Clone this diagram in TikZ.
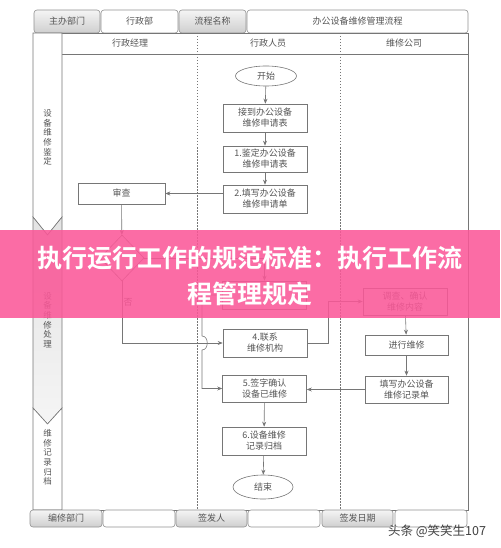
\documentclass[tikz,border=0pt]{standalone}
\usepackage{fontspec}
\setmainfont{Noto Sans CJK SC}[BoldFont={Noto Sans CJK SC Bold}]
\usetikzlibrary{shapes.geometric, arrows.meta}

\definecolor{linegray}{RGB}{118,118,118}
\definecolor{textgray}{RGB}{85,85,85}
\definecolor{bannerpink}{RGB}{250,88,152}

\begin{document}
\begin{tikzpicture}[
  x=1pt, y=-1pt, line width=0.6pt,
  every node/.style={text=textgray, font=\fontsize{9}{11}\selectfont},
  stepbox/.style={draw=linegray, fill=white, minimum width=84pt,
    minimum height=28pt, align=center, inner sep=1pt},
  endbox/.style={ellipse, draw=linegray, fill=white, minimum width=61pt,
    minimum height=20pt, inner sep=1pt},
  flow/.style={draw=linegray, -{Stealth[length=5pt, width=4pt]}},
  graytab/.style={draw=linegray!80, rounded corners=3pt, top color=gray!8,
    bottom color=gray!38, inner sep=0pt},
  whitetab/.style={draw=linegray!80, rounded corners=3pt, fill=white, inner sep=0pt},
  stagetext/.style={align=center, font=\fontsize{8.5}{9.6}\selectfont},
  lanesep/.style={draw=linegray, dash pattern=on 1.5pt off 1.5pt},
]
  \useasboundingbox (0,0) rectangle (500,548);

  % header tabs
  \node[graytab, minimum width=66pt, minimum height=23pt] (zhuban) at (67,21.5) {主办部门};
  \node[whitetab, minimum width=77pt, minimum height=23pt] (xingzhengbu) at (139.5,21.5) {行政部};
  \node[graytab, minimum width=67pt, minimum height=23pt] (liucheng) at (212.5,21.5) {流程名称};
  \node[whitetab, minimum width=221pt, minimum height=23pt] (mingcheng) at (357.5,21.5) {办公设备维修管理流程};

  % frame and lanes
  \draw[linegray] (33,33) rectangle (468,510);
  \draw[linegray] (62,54) -- (468,54);
  \draw[lanesep] (197,33) -- (197,510);
  \draw[lanesep] (340,33) -- (340,510);
  \node (jingli) at (130,43) {行政经理};
  \node (renyuan) at (268,43) {行政人员};
  \node (gongsi) at (404,43) {维修公司};

  % stages
  \draw[linegray, fill=white] (33,33) -- (62,33) -- (62,217) -- (47.5,235) -- (33,217) -- cycle;
  \draw[linegray, top color=gray!22, bottom color=gray!8]
    (33,217) -- (47.5,235) -- (62,217) -- (62,408) -- (47.5,424) -- (33,408) -- cycle;
  \draw[linegray, fill=white] (33,408) -- (47.5,424) -- (62,408) -- (62,510) -- (33,510) -- cycle;
  \node[stagetext] (jieduan1) at (47.5,137.5) {设\\备\\维\\修\\鉴\\定};
  \node[stagetext] (jieduan2) at (47.5,320) {设\\备\\维\\修\\处\\理};
  \node[stagetext] (jieduan3) at (47.5,457.5) {维\\修\\记\\录\\归\\档};

  % flow nodes
  \node[endbox] (kaishi) at (266,76) {开始};
  \node[stepbox] (jiedao) at (265,118) {接到办公设备\\维修申请表};
  \node[stepbox, minimum height=26pt] (jianding) at (265,159) {1.鉴定办公设备\\维修申请表};
  \node[stepbox] (tianxie) at (265,199) {2.填写办公设备\\维修申请单};
  \node[stepbox, minimum width=87pt, minimum height=21pt] (shencha) at (121.5,193.5) {审查};
  \node[diamond, draw=linegray, fill=white, minimum width=44pt, minimum height=46pt,
    inner sep=0pt] (panduan) at (122,258) {};
  \node[stepbox] (bu3) at (264.5,295) {};
  \node[stepbox] (lianxi) at (265,343) {4.联系\\维修机构};
  \node[stepbox, minimum height=27pt] (qianzi) at (264.5,388.5) {5.签字确认\\设备已维修};
  \node[stepbox] (guidang) at (264,441) {6.设备维修\\记录归档};
  \node[endbox, minimum width=60pt, minimum height=24pt] (jieshu) at (263,487) {结束};
  \node[stepbox, minimum height=27pt] (diaocha) at (405,301.5) {调查、确认\\维修内容};
  \node[stepbox, minimum width=83pt, minimum height=20pt] (weixiu) at (406.5,345) {进行维修};
  \node[stepbox, minimum width=83pt, minimum height=27pt] (jilu) at (406.5,389.5) {填写办公设备\\维修记录单};

  % connectors
  \draw[flow] (kaishi) -- (jiedao);
  \draw[flow] (jiedao) -- (jianding);
  \draw[flow] (jianding) -- (tianxie);
  \draw[flow] (tianxie.west |- shencha) -- (shencha.east);
  \draw[flow] (shencha) -- (panduan);
  \draw[flow] (panduan.east) -| (bu3.north);
  \draw[flow] (panduan.south) |- (lianxi.west);
  \node (fou) at (128,302) {否};
  \draw[flow] (bu3.west) -- (202,295) -- (202,336)
    .. controls (209,336) and (209,350) .. (202,350) |- (qianzi.west);
  \draw[flow] (lianxi.east) -- ++(21,0) |- (diaocha.west);
  \draw[flow] (diaocha) -- (weixiu);
  \draw[flow] (weixiu) -- (jilu);
  \draw[flow] (jilu.west) -- (qianzi.east |- jilu.west);
  \draw[flow] (qianzi) -- (guidang);
  \draw[flow] (guidang) -- (jieshu);

  % footer tabs
  \node[graytab, minimum width=72pt, minimum height=17pt] (bianxiu) at (66,518.5) {编修部门};
  \node[whitetab, minimum width=72pt, minimum height=17pt] (kong1) at (139,518.5) {};
  \node[graytab, minimum width=71pt, minimum height=17pt] (qianfaren) at (211.5,518.5) {签发人};
  \node[whitetab, minimum width=72pt, minimum height=17pt] (kong2) at (284,518.5) {};
  \node[graytab, minimum width=71pt, minimum height=17pt] (riqi) at (357.5,518.5) {签发日期};
  \node[whitetab, minimum width=72pt, minimum height=17pt] (kong3) at (431,518.5) {};

  % banner
  \fill[bannerpink, opacity=0.88] (0,230) rectangle (500,318);
  \node[text=white, font=\bfseries\fontsize{25}{28}\selectfont] (biaoti1) at (250,258)
    {执行运行工作的规范标准：执行工作流};
  \node[text=white, font=\bfseries\fontsize{25}{28}\selectfont] (biaoti2) at (250,294)
    {程管理规定};

  % watermark
  \node[text=black!75, font=\fontsize{12.5}{14}\selectfont] (shuiyin) at (437,531)
    {头条 @笑笑生107};
\end{tikzpicture}
\end{document}
